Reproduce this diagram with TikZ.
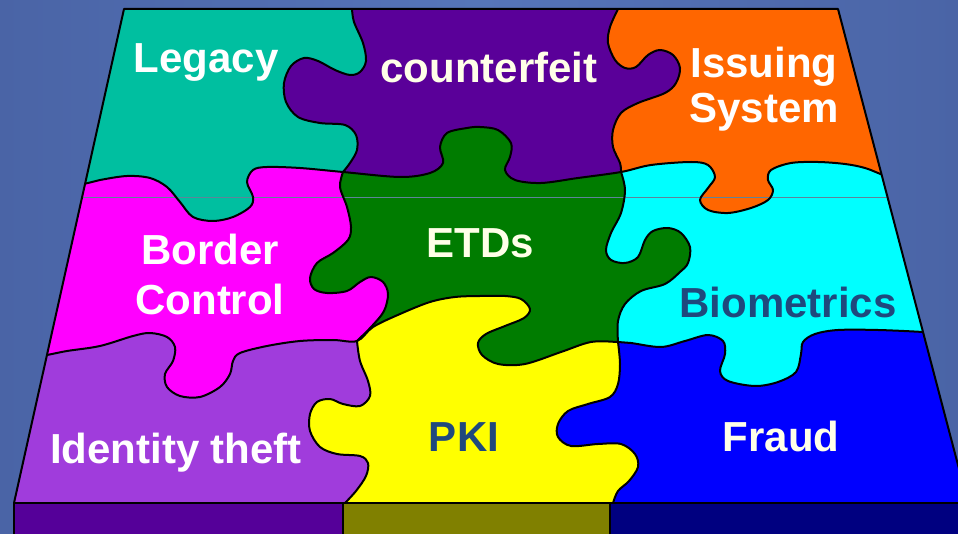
\documentclass[tikz,border=0pt]{standalone}
\usepackage{fontspec}
\setmainfont{Liberation Sans}
\definecolor{bgmid}{HTML}{5675B9}
\definecolor{bgside}{HTML}{4A64A6}
\definecolor{cLeg}{HTML}{00BFA0}
\definecolor{cCnt}{HTML}{5A0099}
\definecolor{cIss}{HTML}{FF6600}
\definecolor{cBor}{HTML}{FF00FF}
\definecolor{cETD}{HTML}{007C00}
\definecolor{cBio}{HTML}{00FFFF}
\definecolor{cIdt}{HTML}{A03CDC}
\definecolor{cPKI}{HTML}{FFFF00}
\definecolor{cFra}{HTML}{0000FF}
\definecolor{sL}{HTML}{550099}
\definecolor{sM}{HTML}{808000}
\definecolor{sR}{HTML}{000080}
\definecolor{cream}{HTML}{FFFFE8}
\definecolor{dblue}{HTML}{1F497D}
\definecolor{hline}{HTML}{5E8499}
% row boundaries
\def\cB#1{#1plot[smooth,tension=0.55] coordinates {(66,187) (88,183) (100,180) (127,176) (150,178) (167,187) (180,202) (193,217) (213,221) (233,217) (250,207) (253,197) (247,182) (253,170) (267,167) (300,168) (343,172) (400,177) (430,173) (443,163) (440,147) (447,133) (467,128) (480,127) (498,130) (511,143) (510,157) (505,170) (515,180) (541,183) (578,178) (621,172) (651,165) (691,162) (708,165) (715,177) (708,188) (700,200) (708,210) (728,213) (751,208) (768,200) (773,190) (768,180) (771,170) (791,163) (818,162) (845,164) (865,168) (883,175) (905,183)}}
\def\cC#1{#1plot[smooth,tension=0.55] coordinates {(28,358) (47,355) (67,351) (100,346) (133,336) (150,333) (167,337) (175,347) (173,361) (165,374) (167,387) (180,396) (200,397) (220,387) (230,374) (233,361) (240,353) (267,346) (300,341) (333,340) (357,341) (373,327) (400,314) (430,302) (455,297) (480,296) (505,296) (521,299) (530,309) (524,318) (505,326) (486,334) (478,343) (482,355) (498,364) (525,364) (561,352) (591,342) (618,342) (631,343) (661,347) (685,341) (708,335) (723,341) (725,354) (720,371) (728,381) (755,386) (778,382) (796,372) (801,354) (803,342) (815,334) (838,330) (878,330) (923,332) (945,334)}}
% column boundaries
\def\cVaT#1{#1plot[smooth,tension=0.55] coordinates {(352,9) (354,22) (363,43) (366,61) (360,72) (350,75) (335,70) (318,61) (304,58) (291,66) (284,83) (286,102) (298,117) (320,123) (345,125) (356,135) (357,150) (350,163) (343,172)}}
\def\cVbT#1{#1plot[smooth,tension=0.55] coordinates {(618,9) (610,27) (608,43) (615,60) (625,68) (636,67) (648,55) (660,50) (673,55) (680,68) (676,83) (665,93) (638,103) (621,113) (613,130) (613,147) (620,163) (621,172)}}
\def\cVaM#1{#1plot[smooth,tension=0.55] coordinates {(343,172) (340,187) (347,207) (351,227) (348,240) (333,253) (317,263) (310,278) (314,289) (327,293) (347,291) (360,282) (371,277) (383,282) (388,294) (384,311) (372,326) (357,341)}}
\def\cVbM#1{#1plot[smooth,tension=0.55] coordinates {(621,172) (625,190) (621,213) (611,233) (606,250) (611,260) (625,263) (638,257) (645,240) (653,231) (668,228) (681,233) (690,247) (688,263) (680,272) (665,284) (641,291) (625,304) (618,321) (618,342)}}
\def\cVaB#1{#1plot[smooth,tension=0.55] coordinates {(357,341) (360,361) (368,381) (370,396) (360,406) (343,404) (330,399) (317,402) (310,414) (310,431) (320,447) (337,454) (360,456) (368,463) (366,476) (356,491) (345,503)}}
\def\cVbB#1{#1plot[smooth,tension=0.55] coordinates {(618,342) (620,364) (618,384) (610,397) (588,404) (568,411) (558,424) (558,437) (571,446) (598,444) (621,444) (635,454) (638,467) (629,481) (618,491) (613,503)}}
\begin{document}
\begin{tikzpicture}[x=1pt,y=-1pt,
  edge/.style={line width=2pt, line join=round, line cap=round},
  lbl/.style={anchor=base, inner sep=0pt, font=\fontsize{42}{45}\selectfont\bfseries}]
\useasboundingbox (0,0) rectangle (958,534);
\clip (0,0) rectangle (958,534);
% background
\shade[left color=bgside, right color=bgside, middle color=bgmid] (0,0) rectangle (958,534);
\begin{scope}
  \clip (124,9) -- (838,9) -- (968,503) -- (14,503) -- cycle;
  % top row
  \begin{scope}
    \clip (-50,-50) -- (-50,187) \cB{--} -- (1010,187) -- (1010,-50) -- cycle;
    \fill[cIss] (-50,-50) rectangle (1010,600);
    \fill[cCnt] (-50,-50) -- (618,-50) \cVbT{--} -- (621,600) -- (-50,600) -- cycle;
    \fill[cLeg] (-50,-50) -- (352,-50) \cVaT{--} -- (343,600) -- (-50,600) -- cycle;
  \end{scope}
  % middle row
  \begin{scope}
    \clip (-50,600) -- (-50,187) \cB{--} -- (1010,187) -- (1010,600) -- cycle;
    \clip (-50,-50) -- (-50,358) \cC{--} -- (1010,334) -- (1010,-50) -- cycle;
    \fill[cBio] (-50,-50) rectangle (1010,600);
    \fill[cETD] (-50,-50) -- (621,-50) \cVbM{--} -- (618,600) -- (-50,600) -- cycle;
    \fill[cBor] (-50,-50) -- (343,-50) \cVaM{--} -- (357,600) -- (-50,600) -- cycle;
  \end{scope}
  % bottom row
  \begin{scope}
    \clip (-50,600) -- (-50,358) \cC{--} -- (1010,334) -- (1010,600) -- cycle;
    \fill[cFra] (-50,-50) rectangle (1010,600);
    \fill[cPKI] (-50,-50) -- (618,-50) \cVbB{--} -- (613,600) -- (-50,600) -- cycle;
    \fill[cIdt] (-50,-50) -- (357,-50) \cVaB{--} -- (345,600) -- (-50,600) -- cycle;
  \end{scope}
  \draw[hline, line width=0.8pt] (0,197) -- (958,197);
  % piece outlines
  \draw[edge] \cB{};
  \draw[edge] \cC{};
  \draw[edge] \cVaT{};
  \draw[edge] \cVbT{};
  \draw[edge] \cVaM{};
  \draw[edge] \cVbM{};
  \draw[edge] \cVaB{};
  \draw[edge] \cVbB{};
\end{scope}
\draw[edge] (14,503) -- (124,9) -- (838,9) -- (968,503);
% bottom strip
\filldraw[fill=sL, edge] (14,503) rectangle (343,540);
\filldraw[fill=sM, edge] (343,503) rectangle (610,540);
\filldraw[fill=sR, edge] (610,503) rectangle (975,540);
% labels
\node[lbl, text=white] (legacy) at (206,73) {Legacy};
\node[lbl, text=cream] (counterfeit) at (489,83) {counterfeit};
\node[lbl, text=white] (issuing) at (764,78) {Issuing};
\node[lbl, text=white] (system) at (764,123) {System};
\node[lbl, text=white] (border) at (210,265) {Border};
\node[lbl, text=white] (control) at (210,315) {Control};
\node[lbl, text=cream] (etds) at (480,258) {ETDs};
\node[lbl, text=dblue] (biometrics) at (788,318) {Biometrics};
\node[lbl, text=white] (identity) at (176,463) {Identity theft};
\node[lbl, text=dblue] (pki) at (464,451) {PKI};
\node[lbl, text=cream] (fraud) at (781,451) {Fraud};
\end{tikzpicture}
\end{document}
